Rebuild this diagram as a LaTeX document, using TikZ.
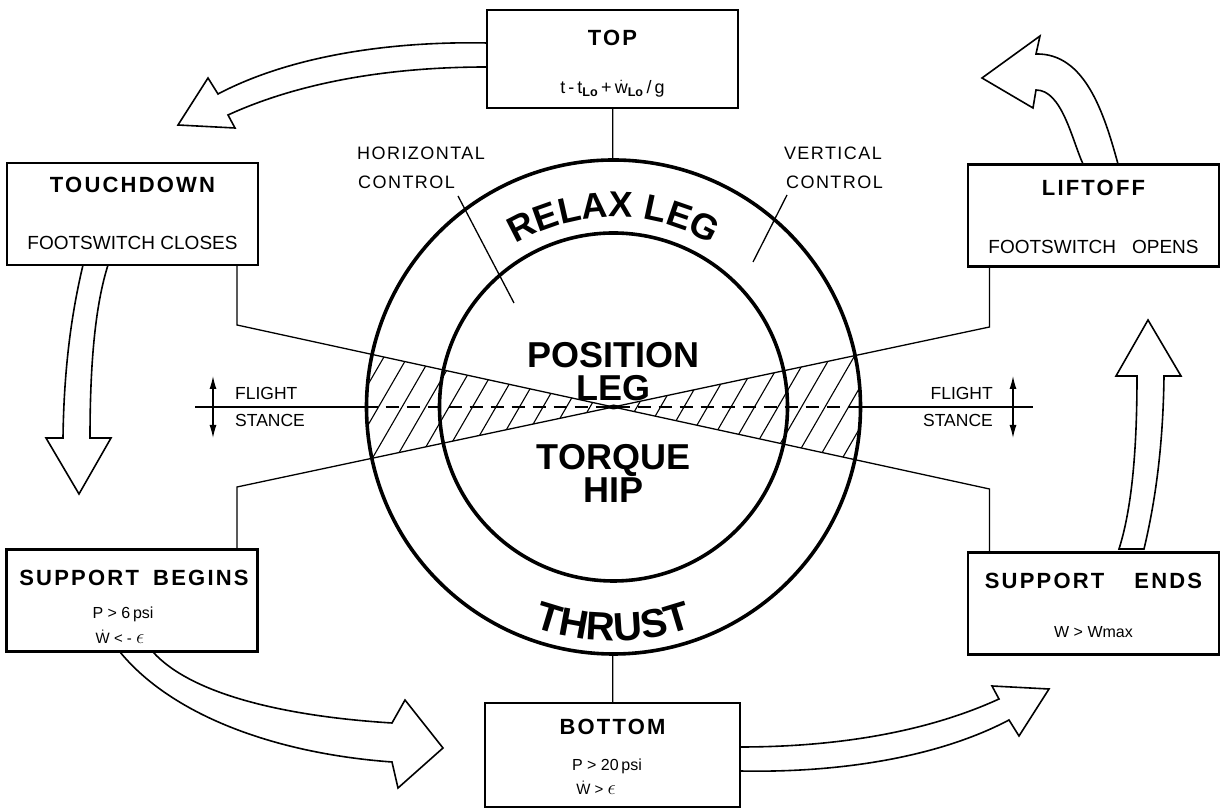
\documentclass[tikz,border=0pt]{standalone}
\usepackage{fontspec}
\setmainfont{Liberation Sans}
\newfontfamily\ttlfont[LetterSpace=10]{Liberation Sans}
\newfontfamily\lblfont[LetterSpace=8]{Liberation Sans}
\usetikzlibrary{arrows.meta,decorations.text}
\newcommand\dotc[1]{\ensuremath{\dot{\mbox{#1}}}}
\newcommand\eps{{\fontsize{21}{21}\selectfont$\epsilon$}}
\begin{document}
\begin{tikzpicture}[x=1pt,y=1pt,
  box/.style={draw, line width=2.4pt, minimum width=251pt, minimum height=102pt, inner sep=0pt},
  ttl/.style={font=\ttlfont\bfseries\fontsize{22}{24}\selectfont, inner sep=0pt},
  body/.style={font=\fontsize{19}{22}\selectfont, inner sep=0pt},
  small/.style={font=\fontsize{16}{18}\selectfont, inner sep=0pt},
  lbl/.style={font=\lblfont\fontsize{18}{20}\selectfont, inner sep=0pt},
  lbltwo/.style={font=\fontsize{17.5}{20}\selectfont, inner sep=0pt},
  big/.style={font=\bfseries\fontsize{36}{36}\selectfont, inner sep=0pt},
  conn/.style={line width=1.3pt},
  ring/.style={draw, circle, line width=3.6pt, inner sep=0pt},
  hollow/.style={draw, line width=1.6pt, fill=white, line join=miter},
  dbl/.style={line width=1.3pt, {Latex[length=13pt,width=7pt]}-{Latex[length=13pt,width=7pt]}},
]
\useasboundingbox (0,0) rectangle (1227,808);
\coordinate (O) at (613.5,401);

% hatched bow-tie
\coordinate (c1) at (237,483);
\coordinate (c2) at (237,321);
\coordinate (c3) at (989.5,319);
\coordinate (c4) at (989.5,481);
\begin{scope}
  \clip (O) circle[radius=247];
  \clip (c1) -- (c3) -- (c4) -- (c2) -- cycle;
  \foreach \i in {-14,...,14}
    \draw[line width=1.1pt] (613.5+\i*23.5-70,280) -- ++(140,242);
\end{scope}

% rings
\node[ring, minimum size=494pt] (outer) at (O) {};
\node[ring, minimum size=348pt] (inner) at (O) {};

% hollow arrows
% TOP -> TOUCHDOWN
\draw[hollow] (487,765) .. controls (390,767) and (290,752) .. (218,714) -- (208,730) -- (178,683) -- (235,680) -- (228,693) .. controls (300,726) and (390,741) .. (487,741) -- cycle;
% TOUCHDOWN -> SUPPORT BEGINS
\draw[hollow] (83,543) .. controls (74,505) and (64,450) .. (63,370) -- (46,370) -- (79,314) -- (111,370) -- (90,370) .. controls (90,450) and (96,505) .. (108,543) -- cycle;
% SUPPORT BEGINS -> BOTTOM
\draw[hollow] (120,156) .. controls (170,95) and (270,55) .. (392,46) -- (398,20) -- (443,60) -- (405,108) -- (392,85) .. controls (280,92) and (190,115) .. (153,156) -- cycle;
% LIFTOFF -> TOP
\draw[hollow] (1118,644) .. controls (1104,695) and (1085,755) .. (1036,754) -- (1040,772) -- (982,730) -- (1033,700) -- (1036,718) .. controls (1062,718) and (1072,668) .. (1083,644) -- cycle;
\begin{scope}[rotate around={180:(613.5,401)}]
% BOTTOM -> SUPPORT ENDS
\draw[hollow] (487,765) .. controls (390,767) and (290,752) .. (218,714) -- (208,730) -- (178,683) -- (235,680) -- (228,693) .. controls (300,726) and (390,741) .. (487,741) -- cycle;
% SUPPORT ENDS -> LIFTOFF
\draw[hollow] (83,543) .. controls (74,505) and (64,450) .. (63,370) -- (46,370) -- (79,314) -- (111,370) -- (90,370) .. controls (90,450) and (96,505) .. (108,543) -- cycle;
\end{scope}

% boxes
\node[box, minimum height=98pt] (top) at (612.5,749) {};
\node[box] (td) at (132.5,594) {};
\node[box] (lo) at (1093.5,592.5) {};
\node[box] (sb) at (132,207.5) {};
\node[box] (se) at (1093.5,204.5) {};
\node[box, minimum width=255pt, minimum height=104pt] (bot) at (612.5,53) {};

% box texts
\node[ttl] (topT) at (612.5,770) {TOP};
\node[small, font=\fontsize{18}{20}\selectfont] (topF) at (612.5,719) {t\,-\,t\textsubscript{\bfseries Lo}\,+\,\dotc{w}\textsubscript{\bfseries Lo}\,/\,g};
\node[ttl] (tdT) at (132.5,623) {TOUCHDOWN};
\node[body] (tdS) at (132.5,565) {FOOTSWITCH CLOSES};
\node[ttl] (loT) at (1093.5,620) {LIFTOFF};
\node[body] (loS) at (1093.5,561) {FOOTSWITCH\hspace{16pt}OPENS};
\node[ttl] (sbT) at (134,230) {SUPPORT\hspace{6pt} BEGINS};
\node[small] (sbP) at (123,194) {P > 6\,psi};
\node[small, font=\fontsize{15}{17}\selectfont] (sbW) at (120,171) {\dotc{W} < - \eps};
\node[ttl] (seT) at (1093.5,227) {SUPPORT\hspace{30pt}ENDS};
\node[small] (seW) at (1093.5,176) {W > Wmax};
\node[ttl] (botT) at (612.5,81) {BOTTOM};
\node[small] (botP) at (607,42) {P > 20\,psi};
\node[small, font=\fontsize{15}{17}\selectfont] (botW) at (596,20) {\dotc{W} > \eps};

% vertical connectors
\draw[conn] (top) -- (outer);
\draw[conn] (bot) -- (outer);

% diagonal connectors
\draw[conn] (td.south -| c1) -- (c1) -- (c3) -- (se.north -| c3);
\draw[conn] (sb.north -| c2) -- (c2) -- (c4) -- (lo.south -| c4);

% flight / stance line
\coordinate (fl) at (195,401);
\coordinate (fr) at (1033,401);
\draw[conn] (fl) -- (outer.west);
\draw[conn] (outer.east) -- (fr);
\draw[conn, dash pattern=on 13pt off 8pt] (outer.west) -- (outer.east);
\fill (603,401) -- (613.5,403.5) -- (626,401) -- (613.5,398.5) -- cycle;

\coordinate (dl1) at (213,432);
\coordinate (dl2) at (213,370);
\coordinate (dr1) at (1013,432);
\coordinate (dr2) at (1013,370);
\draw[dbl] (dl1) -- (dl2);
\draw[dbl] (dr1) -- (dr2);
\node[lbltwo, anchor=west] (fL) at (235,415) {FLIGHT};
\node[lbltwo, anchor=west] (sL) at (235,388) {STANCE};
\node[lbltwo, anchor=east] (fR) at (993,415) {FLIGHT};
\node[lbltwo, anchor=east] (sR) at (993,388) {STANCE};

% control labels
\node[lbl, anchor=west] (hc1) at (357,655) {HORIZONTAL};
\node[lbl, anchor=west] (hc2) at (358,626) {CONTROL};
\node[lbl, anchor=east] (vc1) at (882,655) {VERTICAL};
\node[lbl, anchor=east] (vc2) at (883,626) {CONTROL};
\coordinate (hl1) at (458,612);
\coordinate (hl2) at (514,505);
\coordinate (vl1) at (787,613);
\coordinate (vl2) at (753,546);
\draw[conn] (hl1) -- (hl2);
\draw[conn] (vl1) -- (vl2);

% center words
\node[big, anchor=base] (pos) at (613.5,440) {POSITION};
\node[big, anchor=base] (leg) at (613.5,407) {LEG};
\node[big, anchor=base] (tor) at (613.5,338) {TORQUE};
\node[big, anchor=base] (hip) at (613.5,305) {HIP};

% curved ring words
\path[decorate, decoration={text along path, text align=center,
   text={|\bfseries\fontsize{36}{36}\selectfont|RELAX LEG}}]
   (O) ++(150:190) arc[start angle=150, end angle=30, radius=190];
\path[decorate, decoration={text along path, text align=center,
   text={|\bfseries\fontsize{40}{40}\selectfont|THRUST}}]
   (O) ++(240:234) arc[start angle=240, end angle=300, radius=234];
\end{tikzpicture}
\end{document}
